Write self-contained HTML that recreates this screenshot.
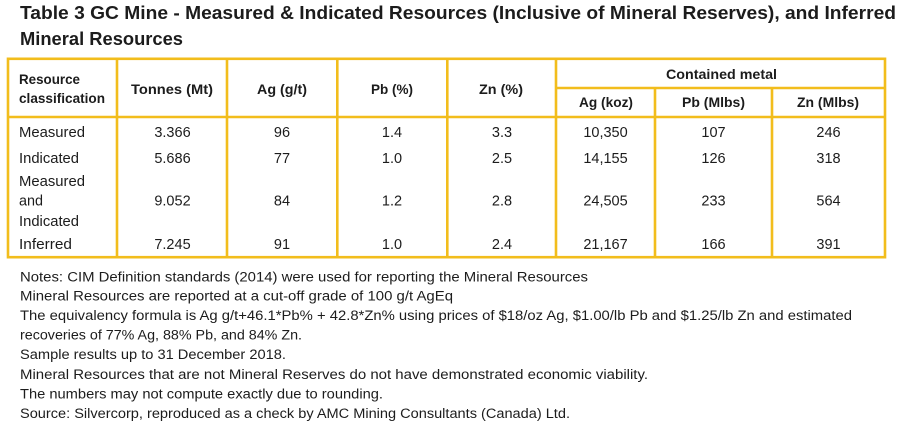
<!DOCTYPE html>
<html>
<head>
<meta charset="utf-8">
<style>
html,body{margin:0;padding:0;background:#fff;}
svg{display:block;}
text{font-family:"Liberation Sans",sans-serif;fill:#1c1c1c;}
.t{font-weight:bold;font-size:18px;}
.h{font-weight:bold;font-size:13.8px;}
.d{font-size:14.5px;}
.n{font-size:14.2px;}
</style>
</head>
<body>
<svg width="900" height="424" viewBox="0 0 900 424" xmlns="http://www.w3.org/2000/svg">
<rect width="900" height="424" fill="#fff"/>
<!-- Title -->
<text class="t" x="20" y="19" textLength="876" lengthAdjust="spacingAndGlyphs">Table 3  GC Mine - Measured &amp; Indicated Resources (Inclusive of Mineral Reserves), and Inferred</text>
<text class="t" x="20" y="45" textLength="163" lengthAdjust="spacingAndGlyphs">Mineral Resources</text>

<!-- Table borders -->
<g stroke="#F2BD1C" stroke-width="2.6" fill="none">
<rect x="8" y="58.8" width="877" height="198.4"/>
<line x1="8" y1="117" x2="885" y2="117"/>
<line x1="556" y1="88" x2="885" y2="88"/>
<line x1="117" y1="58.8" x2="117" y2="257.2"/>
<line x1="227" y1="58.8" x2="227" y2="257.2"/>
<line x1="337.3" y1="58.8" x2="337.3" y2="257.2"/>
<line x1="447.3" y1="58.8" x2="447.3" y2="257.2"/>
<line x1="556" y1="58.8" x2="556" y2="257.2"/>
<line x1="655" y1="88" x2="655" y2="257.2"/>
<line x1="772" y1="88" x2="772" y2="257.2"/>
</g>

<!-- Header -->
<text class="h" x="19" y="84" textLength="61" lengthAdjust="spacingAndGlyphs">Resource</text>
<text class="h" x="19" y="103" textLength="86" lengthAdjust="spacingAndGlyphs">classification</text>
<text class="h" x="172" y="94" text-anchor="middle" textLength="82" lengthAdjust="spacingAndGlyphs">Tonnes (Mt)</text>
<text class="h" x="282" y="94" text-anchor="middle" textLength="50" lengthAdjust="spacingAndGlyphs">Ag (g/t)</text>
<text class="h" x="392" y="94" text-anchor="middle" textLength="42" lengthAdjust="spacingAndGlyphs">Pb (%)</text>
<text class="h" x="501" y="94" text-anchor="middle" textLength="44" lengthAdjust="spacingAndGlyphs">Zn (%)</text>
<text class="h" x="721.5" y="79" text-anchor="middle" textLength="111" lengthAdjust="spacingAndGlyphs">Contained metal</text>
<text class="h" x="606" y="107" text-anchor="middle" textLength="54" lengthAdjust="spacingAndGlyphs">Ag (koz)</text>
<text class="h" x="713.5" y="107" text-anchor="middle" textLength="63" lengthAdjust="spacingAndGlyphs">Pb (Mlbs)</text>
<text class="h" x="828" y="107" text-anchor="middle" textLength="62" lengthAdjust="spacingAndGlyphs">Zn (Mlbs)</text>

<!-- Row labels -->
<text class="d" x="19" y="137" textLength="66" lengthAdjust="spacingAndGlyphs">Measured</text>
<text class="d" x="19" y="163" textLength="60" lengthAdjust="spacingAndGlyphs">Indicated</text>
<text class="d" x="19" y="186" textLength="66" lengthAdjust="spacingAndGlyphs">Measured</text>
<text class="d" x="19" y="205.5" textLength="24" lengthAdjust="spacingAndGlyphs">and</text>
<text class="d" x="19" y="226" textLength="60" lengthAdjust="spacingAndGlyphs">Indicated</text>
<text class="d" x="19" y="249" textLength="53" lengthAdjust="spacingAndGlyphs">Inferred</text>

<!-- Data -->
<g class="d" text-anchor="middle">
<text class="d" x="172.5" y="137">3.366</text>
<text class="d" x="282" y="137">96</text>
<text class="d" x="392" y="137">1.4</text>
<text class="d" x="502" y="137">3.3</text>
<text class="d" x="605.5" y="137">10,350</text>
<text class="d" x="713.5" y="137">107</text>
<text class="d" x="828.5" y="137">246</text>

<text class="d" x="172.5" y="163">5.686</text>
<text class="d" x="282" y="163">77</text>
<text class="d" x="392" y="163">1.0</text>
<text class="d" x="502" y="163">2.5</text>
<text class="d" x="605.5" y="163">14,155</text>
<text class="d" x="713.5" y="163">126</text>
<text class="d" x="828.5" y="163">318</text>

<text class="d" x="172.5" y="205.5">9.052</text>
<text class="d" x="282" y="205.5">84</text>
<text class="d" x="392" y="205.5">1.2</text>
<text class="d" x="502" y="205.5">2.8</text>
<text class="d" x="605.5" y="205.5">24,505</text>
<text class="d" x="713.5" y="205.5">233</text>
<text class="d" x="828.5" y="205.5">564</text>

<text class="d" x="172.5" y="249">7.245</text>
<text class="d" x="282" y="249">91</text>
<text class="d" x="392" y="249">1.0</text>
<text class="d" x="502" y="249">2.4</text>
<text class="d" x="605.5" y="249">21,167</text>
<text class="d" x="713.5" y="249">166</text>
<text class="d" x="828.5" y="249">391</text>
</g>

<!-- Notes -->
<text class="n" x="20" y="281.5" textLength="568" lengthAdjust="spacingAndGlyphs">Notes: CIM Definition standards (2014) were used for reporting the Mineral Resources</text>
<text class="n" x="20" y="300.5" textLength="433" lengthAdjust="spacingAndGlyphs">Mineral Resources are reported at a cut-off grade of 100 g/t AgEq</text>
<text class="n" x="20" y="320" textLength="832" lengthAdjust="spacingAndGlyphs">The equivalency formula is Ag g/t+46.1*Pb% + 42.8*Zn% using prices of $18/oz Ag, $1.00/lb Pb and $1.25/lb Zn and estimated</text>
<text class="n" x="20" y="339.5" textLength="282" lengthAdjust="spacingAndGlyphs">recoveries of 77% Ag, 88% Pb, and 84% Zn.</text>
<text class="n" x="20" y="359" textLength="266" lengthAdjust="spacingAndGlyphs">Sample results up to 31 December 2018.</text>
<text class="n" x="20" y="379" textLength="628" lengthAdjust="spacingAndGlyphs">Mineral Resources that are not Mineral Reserves do not have demonstrated economic viability.</text>
<text class="n" x="20" y="398.5" textLength="363" lengthAdjust="spacingAndGlyphs">The numbers may not compute exactly due to rounding.</text>
<text class="n" x="20" y="418" textLength="550" lengthAdjust="spacingAndGlyphs">Source: Silvercorp, reproduced as a check by AMC Mining Consultants (Canada) Ltd.</text>
</svg>
</body>
</html>
